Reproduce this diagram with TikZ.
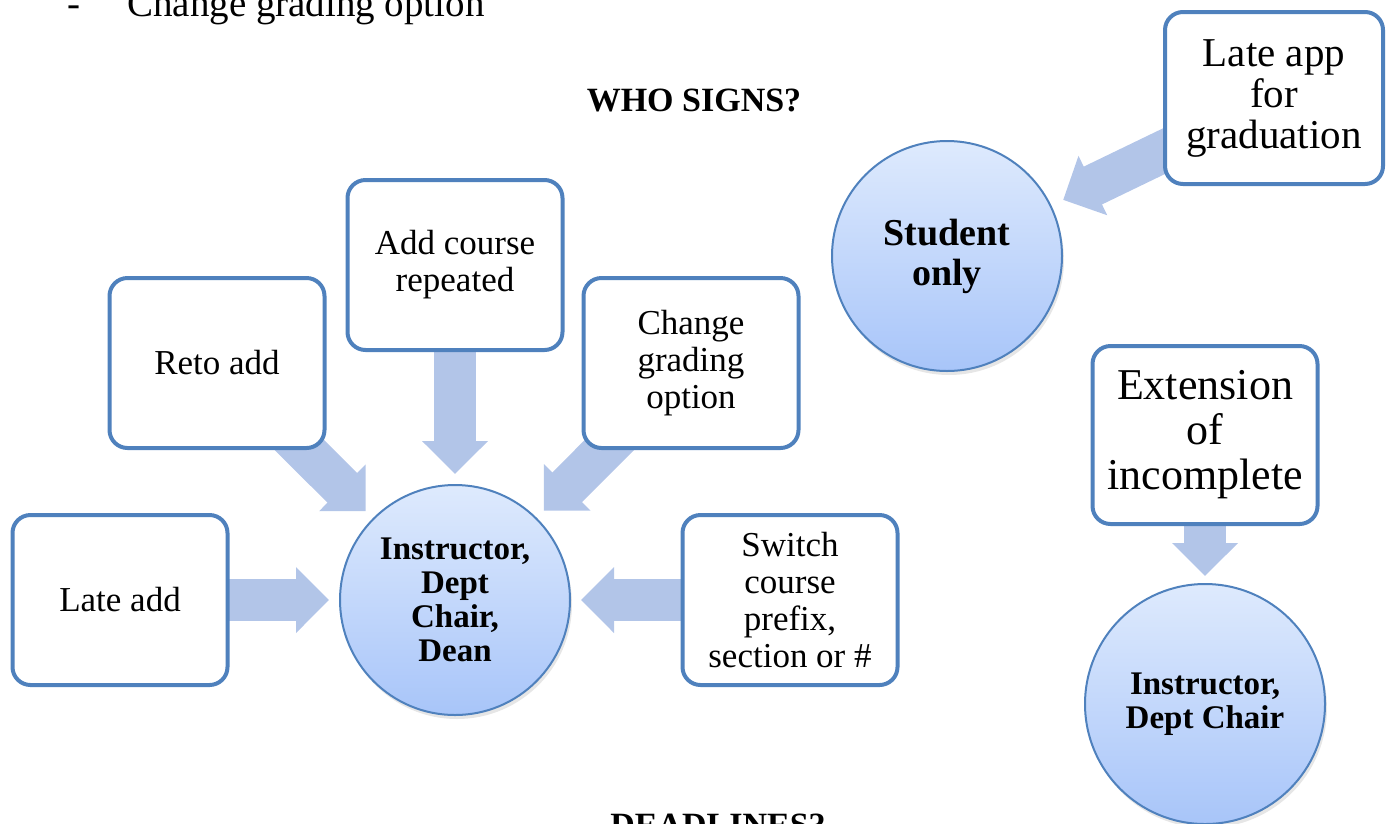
\documentclass[tikz,border=0pt]{standalone}
\usepackage{fontspec}
\setmainfont{Liberation Serif}
\usepackage{tikz}
\usetikzlibrary{arrows.meta,backgrounds,shadows}

\definecolor{boxblue}{HTML}{4F81BD}
\definecolor{circtop}{HTML}{DEEAFD}
\definecolor{circbot}{HTML}{A8C5F9}
\definecolor{arrowblue}{HTML}{B2C5E8}

\tikzset{
  itembox/.style={draw=boxblue, line width=4pt, rounded corners=18pt, fill=white,
    minimum width=215pt, minimum height=170pt, inner sep=0pt, align=center,
    font=\fontsize{35}{37}\selectfont},
  signcircle/.style={circle, draw=boxblue, line width=2pt, top color=circtop,
    bottom color=circbot, minimum size=230pt, inner sep=0pt, align=center,
    font=\bfseries\fontsize{33}{34}\selectfont,
    drop shadow={opacity=0.2, shadow xshift=2pt, shadow yshift=-4pt}},
  fatarrow/.style={draw=arrowblue, line width=42pt,
    -{Triangle[width=64pt,length=33pt]}, shorten >=126pt},
  heading/.style={anchor=base, inner sep=0pt, font=\bfseries\fontsize{34}{40}\selectfont}
}

\begin{document}
\begin{tikzpicture}[x=1pt,y=-1pt]

\useasboundingbox (0,0) rectangle (1388,823);
\clip (0,0) rectangle (1388,823);

\node[anchor=base, inner sep=0pt, font=\fontsize{39}{42}\selectfont] (topdash) at (74,16) {-};
\node[anchor=base west, inner sep=0pt, font=\fontsize{39}{42}\selectfont] (topitem) at (127,16) {Change grading option};

\node[heading] (whosigns) at (694,111) {WHO SIGNS?};
\node[heading] (deadlines) at (718,836) {DEADLINES?};

\node[itembox] (lateadd) at (120,600) {Late add};
\node[itembox] (retoadd) at (217,363) {Reto add};
\node[itembox] (addrepeat) at (455,265) {Add course\\repeated};
\node[itembox] (gradeopt) at (691,363) {Change\\grading\\option};
\node[itembox] (switchcourse) at (790,600) {Switch\\course\\prefix,\\section or \#};

\node[signcircle] (threesign) at (455,600) {Instructor,\\Dept\\Chair,\\Dean};

\node[signcircle, font=\bfseries\fontsize{38}{40}\selectfont] (studentonly) at (947,256) {Student\\only};
\node[itembox, minimum width=218pt, minimum height=172pt, font=\fontsize{41}{41}\selectfont] (lateapp) at (1274,98) {Late app\\for\\graduation};

\node[itembox, minimum width=225pt, minimum height=178pt, font=\fontsize{44}{45}\selectfont] (extension) at (1205,435) {Extension\\of\\incomplete};
\node[signcircle, minimum size=240pt] (twosign) at (1205,704) {Instructor,\\Dept Chair};

\begin{scope}[on background layer]
\foreach \src in {lateadd,retoadd,addrepeat,gradeopt,switchcourse}
   \draw[fatarrow] (\src.center) -- (threesign.center);
\draw[fatarrow, shorten >=129pt] (lateapp.center) -- (studentonly.center);
\draw[fatarrow, shorten >=128pt] (extension.center) -- (twosign.center);
\end{scope}

\end{tikzpicture}
\end{document}
